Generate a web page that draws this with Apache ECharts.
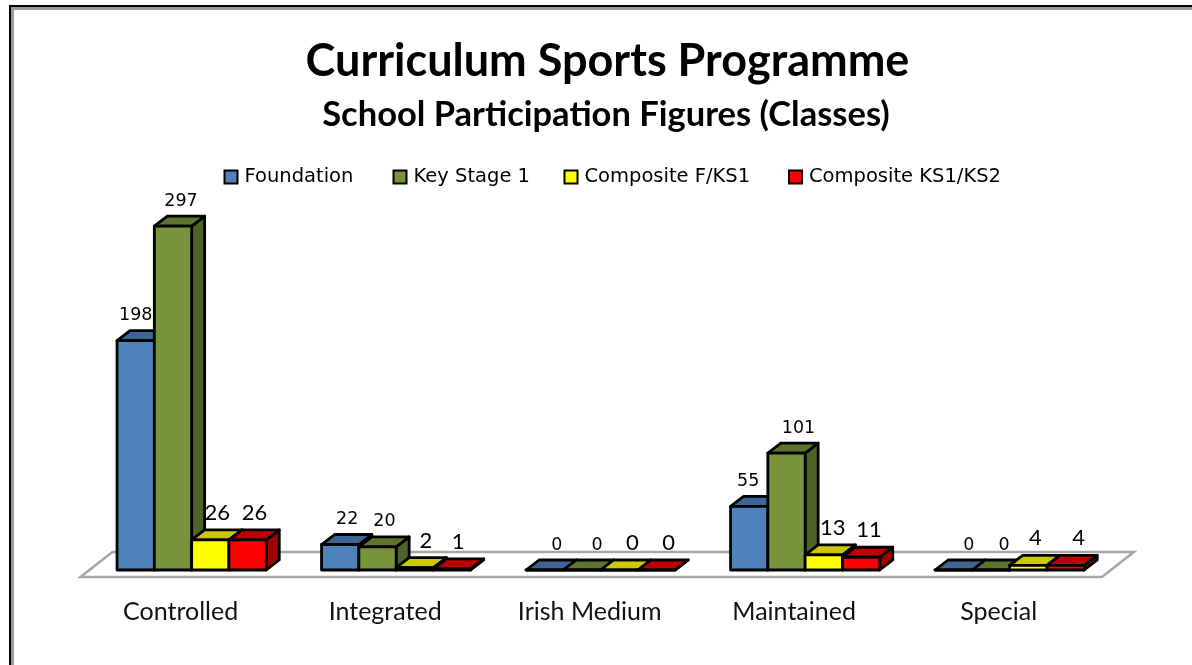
<!DOCTYPE html>
<html><head><meta charset="utf-8">
<style>html,body{margin:0;padding:0;background:#fff}#c{width:1192px;height:665px}</style>
<script src="https://cdn.jsdelivr.net/npm/echarts@6/dist/echarts.min.js"></script>
</head><body><div id="c"></div>
<script>
const categories = ['Controlled','Integrated','Irish Medium','Maintained','Special'];
const foundation = [198,22,0,55,0];
const keyStage1 = [297,20,0,101,0];
const compositeFKS1 = [26,2,0,13,4];
const compositeKS1KS2 = [26,1,0,11,4];
const seriesNames = ['Foundation','Key Stage 1','Composite F/KS1','Composite KS1/KS2'];
const seriesValues = [foundation,keyStage1,compositeFKS1,compositeKS1KS2];
const frontColors = ['#4F81BD','#77933C','#FFFF00','#FF0000'];
const topColors = ['#3D6595','#5F752E','#CCC800','#C00000'];
const sideColors = ['#335580','#4F6228','#A8A800','#A00000'];
const labelFonts = ['17.5px "DejaVu Sans"','17.5px "DejaVu Sans"','22px Lato','22px Lato'];
const labelShift = [[0,7,12,-1,15],[8,7,15,12,13],[7,11,13,9,7],[7,6,12,8,13]];
const legendLefts = [223.5,392.5,563.5,788];
const DX=13, DY=10;

function barItem(si){
  return function(params, api){
    const cat=api.value(0), val=api.value(1);
    const band=api.size([1,0])[0];
    const w=band*0.1824;
    const base=api.coord([cat,0]);
    const top=api.coord([cat,val]);
    const x0=base[0]-2*w+si*w, x1=x0+w, yb=base[1], yt=top[1];
    const line={stroke:'#000',lineWidth:2.8,lineJoin:'round'};
    return {type:'group',children:[
      {type:'polygon',shape:{points:[[x1,yb],[x1+DX,yb-DY],[x1+DX,yt-DY],[x1,yt]]},
       style:Object.assign({fill:sideColors[si]},line)},
      {type:'polygon',shape:{points:[[x0,yt],[x0+DX,yt-DY],[x1+DX,yt-DY],[x1,yt]]},
       style:Object.assign({fill:topColors[si]},line)},
      {type:'polygon',shape:{points:[[x0,yb],[x1,yb],[x1,yt],[x0,yt]]},
       style:Object.assign({fill:frontColors[si]},line)},
      {type:'text',z2:10,style:{text:String(val),x:(x0+x1)/2+labelShift[si][cat],y:yt-DY-6,
        textAlign:'center',textVerticalAlign:'bottom',font:labelFonts[si],fill:'#000'}}
    ]};
  };
}
function floorItem(params){
  const c=params.coordSys, yb=c.y+c.height;
  const pts=[[c.x-9,yb+7],[c.x+c.width-10,yb+7],[c.x+c.width+22,yb-18],[c.x+23,yb-18]];
  return {type:'polygon',shape:{points:pts},style:{fill:'#fff',stroke:'#A6A6A6',lineWidth:2.5}};
}
const series=[{type:'custom',silent:true,renderItem:floorItem,data:[[0,0]],encode:{x:0,y:1},clip:false,z:1}];
seriesNames.forEach((n,si)=>series.push({
  name:n,type:'custom',renderItem:barItem(si),clip:false,z:2+si,
  encode:{x:0,y:1},
  itemStyle:{color:frontColors[si],borderColor:'#000',borderWidth:3},
  data:seriesValues[si].map((v,i)=>[i,v])
}));
const chart=echarts.init(document.getElementById('c'),null,{renderer:'canvas'});
chart.setOption({
  animation:false,backgroundColor:'#fff',
  title:[
    {text:'Curriculum Sports Programme',left:602.5,top:34,textAlign:'center',
     textStyle:{fontFamily:'Lato',fontWeight:'bold',fontSize:45,color:'#000'}},
    {text:'School Participation Figures (Classes)',left:601,top:92,textAlign:'center',
     textStyle:{fontFamily:'Lato',fontWeight:'bold',fontSize:34.5,color:'#000'}}
  ],
  legend:seriesNames.map((n,i)=>({data:[n],left:legendLefts[i],top:167,padding:0,itemWidth:13,itemHeight:13,icon:'rect',
    selectedMode:false,textStyle:{fontFamily:'DejaVu Sans',fontSize:19.5,color:'#000',padding:[0,0,0,2]}})),
  grid:{left:89.4,width:1022.5,top:222.6,height:347.4,containLabel:false},
  xAxis:{type:'category',data:categories,axisLine:{show:false},axisTick:{show:false},
    axisLabel:{margin:29,fontFamily:'Lato',fontSize:25,color:'#111',padding:[0,22,0,0]}},
  yAxis:{type:'value',min:0,max:300,interval:50,show:false,splitLine:{show:false}},
  graphic:[
    {type:'rect',silent:true,z:0,shape:{x:10,y:6,width:1300,height:800},style:{fill:'#fff',stroke:'#000',lineWidth:2}},
    {type:'rect',silent:true,z:0,shape:{x:12.5,y:8.5,width:1300,height:800},style:{fill:'none',stroke:'#999',lineWidth:3}}
  ],
  series
});
</script></body></html>
